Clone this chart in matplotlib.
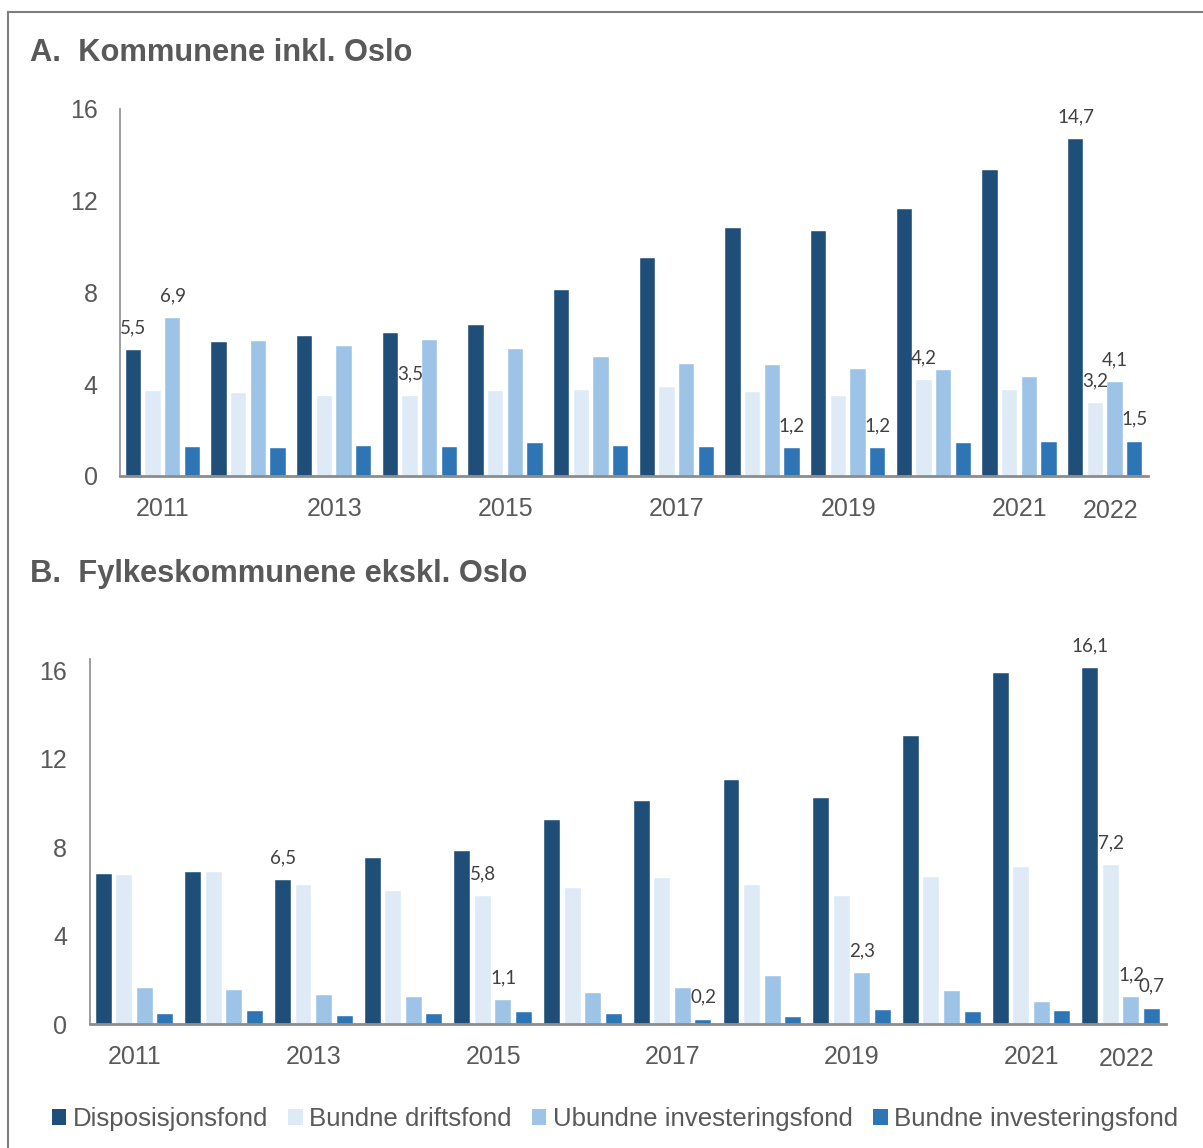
import matplotlib
matplotlib.use("Agg")
import matplotlib.pyplot as plt
from matplotlib.patches import Patch
from matplotlib.lines import Line2D
from matplotlib.transforms import ScaledTranslation
import numpy as np

years = list(range(2011, 2023))
tick_years = [2011, 2013, 2015, 2017, 2019, 2021, 2022]
series = ["Disposisjonsfond", "Bundne driftsfond", "Ubundne investeringsfond", "Bundne investeringsfond"]
colors = ["#1F4E79", "#DEEAF6", "#9DC3E6", "#2E75B6"]

# A. Kommunene inkl. Oslo
a_disp = [5.5, 5.85, 6.1, 6.25, 6.6, 8.1, 9.5, 10.8, 10.7, 11.65, 13.35, 14.7]
a_drift = [3.7, 3.6, 3.5, 3.5, 3.7, 3.75, 3.9, 3.65, 3.5, 4.2, 3.75, 3.2]
a_ubinv = [6.9, 5.9, 5.65, 5.95, 5.55, 5.2, 4.9, 4.85, 4.65, 4.6, 4.3, 4.1]
a_binv = [1.28, 1.22, 1.3, 1.25, 1.45, 1.3, 1.25, 1.2, 1.2, 1.45, 1.5, 1.5]
# (year, series index) pairs that carry a data label
a_labels = [(2011, 0), (2011, 2), (2014, 1), (2018, 3), (2019, 3), (2020, 1),
            (2022, 0), (2022, 1), (2022, 2), (2022, 3)]

# B. Fylkeskommunene ekskl. Oslo
b_disp = [6.8, 6.85, 6.5, 7.5, 7.8, 9.2, 10.1, 11.05, 10.2, 13.0, 15.85, 16.1]
b_drift = [6.75, 6.85, 6.3, 6.0, 5.8, 6.15, 6.6, 6.3, 5.8, 6.65, 7.1, 7.2]
b_ubinv = [1.65, 1.55, 1.3, 1.2, 1.1, 1.4, 1.65, 2.15, 2.3, 1.5, 1.0, 1.2]
b_binv = [0.45, 0.6, 0.35, 0.45, 0.55, 0.45, 0.2, 0.3, 0.65, 0.55, 0.6, 0.7]
b_labels = [(2013, 0), (2015, 1), (2015, 2), (2017, 3), (2019, 2),
            (2022, 0), (2022, 1), (2022, 2), (2022, 3)]

W, H = 1203, 1148
fig = plt.figure(figsize=(W / 100, H / 100), dpi=100)
gray = "#595959"
txt_font = ["Liberation Sans", "DejaVu Sans"]
lab_font = ["Lato", "DejaVu Sans"]

# frame around the figure (right and bottom run off the picture)
fig.add_artist(Line2D([8 / W, 8 / W], [0, 1 - 12 / H], transform=fig.transFigure, color="#7f7f7f", lw=1.5))
fig.add_artist(Line2D([8 / W, 1.0], [1 - 12 / H, 1 - 12 / H], transform=fig.transFigure, color="#7f7f7f", lw=1.5))


def panel(rect, data, labels, ymax, title, title_y):
    ax = fig.add_axes([rect[0] / W, 1 - rect[3] / H, (rect[2] - rect[0]) / W, (rect[3] - rect[1]) / H])
    x = np.arange(len(years))
    step, bw = 0.229, 0.178
    for k, vals in enumerate(data):
        ax.bar(x + (k - 1.5) * step, vals, width=bw, color=colors[k], edgecolor="white", linewidth=0.3, zorder=2)
    for yr, k in labels:
        i = years.index(yr)
        v = data[k][i]
        ax.annotate(f"{v:.1f}".replace(".", ","), (i + (k - 1.5) * step, v), xytext=(0, 16),
                    textcoords="offset points", ha="center", va="center",
                    fontsize=13.5, color="#404040", family=lab_font)
    ax.set_xlim(-0.5, len(years) - 0.5)
    ax.set_ylim(0, ymax)
    ax.set_yticks([0, 4, 8, 12, 16])
    ax.set_xticks([years.index(y) for y in tick_years])
    ax.set_xticklabels([str(y) for y in tick_years])
    for s in ["top", "right"]:
        ax.spines[s].set_visible(False)
    ax.spines["left"].set_color("#8c8c8c")
    ax.spines["left"].set_linewidth(1.2)
    ax.spines["bottom"].set_color("#8c8c8c")
    ax.spines["bottom"].set_linewidth(2.0)
    ax.tick_params(axis="both", length=0, labelsize=18, labelcolor=gray)
    ax.tick_params(axis="y", pad=16)
    ax.tick_params(axis="x", pad=15)
    for t in ax.get_xticklabels() + ax.get_yticklabels():
        t.set_family(txt_font)
    # the last year label sits a little right and lower in the original
    last = ax.get_xticklabels()[-1]
    last.set_transform(last.get_transform() + ScaledTranslation(5 / 100, -2 / 100, fig.dpi_scale_trans))
    fig.text(30 / W, 1 - title_y / H, title, fontsize=22.2, fontweight="bold", color=gray,
             family=txt_font, ha="left", va="center")
    return ax


panel((120, 109, 1148, 476), [a_disp, a_drift, a_ubinv, a_binv], a_labels, 16,
      "A.  Kommunene inkl. Oslo", 53)
panel((89.5, 659, 1166, 1024), [b_disp, b_drift, b_ubinv, b_binv], b_labels, 16.5,
      "B.  Fylkeskommunene ekskl. Oslo", 574)

handles = [Patch(facecolor=c, edgecolor="none") for c in colors]
leg = fig.legend(handles, series, loc="center", bbox_to_anchor=(615 / W, 1 - 1119 / H), ncol=4,
                 frameon=False, handlelength=0.55, handleheight=0.55,
                 handletextpad=0.25, columnspacing=0.8, prop={"family": txt_font, "size": 18.6})
for t in leg.get_texts():
    t.set_color(gray)

fig.savefig("out.png", dpi=100)
